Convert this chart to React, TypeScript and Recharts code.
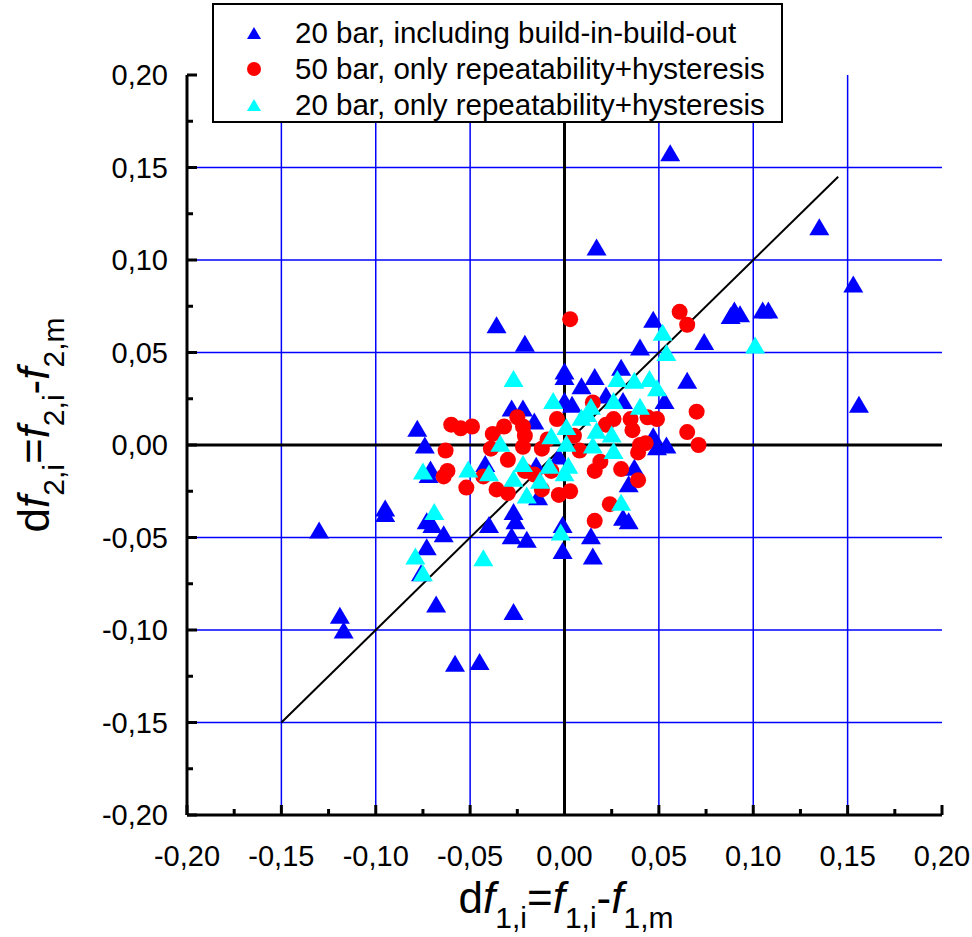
import { Legend, ReferenceLine, Scatter, ScatterChart, XAxis, YAxis } from "recharts";

// [df1, df2] pairs
const build20: [number, number][] = [
  [-0.13, -0.046], [-0.119, -0.092], [-0.117, -0.1], [-0.095, -0.034], [-0.095, -0.037],
  [-0.078, 0.009], [-0.074, 0.0], [-0.071, -0.013], [-0.072, -0.016], [-0.073, -0.041],
  [-0.07, -0.043], [-0.064, -0.048], [-0.073, -0.055], [-0.076, -0.069], [-0.068, -0.086],
  [-0.058, -0.118], [-0.045, -0.117], [-0.042, -0.01], [-0.04, -0.043], [-0.036, 0.065],
  [-0.021, 0.055], [-0.028, 0.02], [-0.022, 0.02], [-0.016, 0.013], [-0.015, -0.011],
  [-0.014, -0.028], [-0.027, -0.036], [-0.026, -0.041], [-0.028, -0.049], [-0.02, -0.051],
  [-0.027, -0.09], [0.0, 0.04], [0.0, 0.037], [0.009, 0.032], [0.016, 0.037],
  [0.0, 0.024], [0.004, 0.022], [-0.001, -0.043], [-0.001, -0.057], [0.015, -0.06],
  [0.014, -0.049], [0.017, 0.107], [0.056, 0.158], [0.047, 0.068], [0.04, 0.053],
  [0.03, 0.042], [0.022, 0.027], [0.031, 0.024], [0.053, 0.024], [0.065, 0.035],
  [0.074, 0.056], [0.088, 0.07], [0.09, 0.073], [0.093, 0.071], [0.105, 0.073],
  [0.108, 0.073], [0.135, 0.118], [0.153, 0.087], [0.156, 0.022], [0.047, 0.005],
  [0.049, -0.001], [0.054, 0.0], [0.037, -0.012], [0.034, -0.021], [0.031, -0.039],
  [0.034, -0.041], [-0.003, -0.006],
];

const rep50: [number, number][] = [
  [0.003, 0.068], [0.061, 0.072], [0.065, 0.065], [-0.06, 0.011], [-0.055, 0.009],
  [-0.049, 0.01], [-0.025, 0.015], [-0.032, 0.01], [-0.022, 0.01], [-0.021, 0.005],
  [-0.038, 0.006], [-0.039, -0.002], [-0.063, -0.003], [0.015, 0.023], [-0.004, 0.014],
  [-0.009, 0.003], [0.07, 0.018], [0.065, 0.007], [0.071, 0.0], [0.026, 0.014],
  [0.035, 0.014], [0.036, 0.008], [0.049, 0.014], [0.044, 0.015], [0.022, 0.011],
  [0.04, 0.0], [0.043, 0.001], [0.008, -0.003], [0.005, 0.005], [-0.062, -0.014],
  [-0.064, -0.017], [-0.052, -0.023], [-0.043, -0.017], [-0.03, -0.008], [-0.036, -0.024],
  [-0.03, -0.026], [-0.021, -0.014], [-0.016, -0.016], [-0.012, -0.024], [-0.003, -0.027],
  [0.003, -0.025], [-0.007, -0.014], [-0.012, -0.002], [-0.022, -0.001], [0.016, -0.014],
  [0.016, -0.041], [0.019, -0.009], [0.03, -0.013], [0.039, -0.019], [0.024, -0.032],
  [0.039, -0.004],
];

const rep20: [number, number][] = [
  [-0.027, 0.036], [-0.006, 0.024], [-0.007, 0.005], [0.001, 0.01], [0.014, 0.021],
  [0.009, 0.015], [0.017, 0.008], [-0.034, 0.001], [0.052, 0.061], [0.054, 0.05],
  [0.101, 0.054], [0.028, 0.036], [0.037, 0.035], [0.045, 0.036], [0.049, 0.031],
  [0.04, 0.021], [0.026, 0.024], [0.012, 0.017], [0.025, 0.006], [0.015, 0.0],
  [0.026, -0.003], [-0.075, -0.014], [-0.051, -0.013], [-0.04, -0.015], [-0.022, -0.01],
  [-0.027, -0.018], [-0.02, -0.027], [-0.013, -0.019], [0.0, -0.015], [0.002, -0.011],
  [0.03, -0.031], [-0.069, -0.036], [-0.079, -0.06], [-0.075, -0.069], [-0.043, -0.061],
  [-0.002, -0.047], [-0.008, -0.011], [0.001, 0.001],
];

const axisTicks = [
  -0.2, -0.175, -0.15, -0.125, -0.1, -0.075, -0.05, -0.025, 0,
  0.025, 0.05, 0.075, 0.1, 0.125, 0.15, 0.175, 0.2,
];
const gridValues = [-0.15, -0.1, -0.05, 0.05, 0.1, 0.15];
const fitLine = [-0.15, 0.145];

const FONT = '"Liberation Sans", Arial, sans-serif';

const toPoints = (arr: [number, number][]) => arr.map(([x, y]) => ({ x, y }));

const triangle = (color: string, w: number, h: number) => (p: any) => {
  const { cx, cy } = p;
  if (cx == null || cy == null) return <g />;
  return (
    <polygon
      points={`${cx},${cy - h / 2} ${cx + w / 2},${cy + h / 2} ${cx - w / 2},${cy + h / 2}`}
      fill={color}
    />
  );
};

const dot = (color: string, r: number) => (p: any) => {
  const { cx, cy } = p;
  if (cx == null || cy == null) return <g />;
  return <circle cx={cx} cy={cy} r={r} fill={color} />;
};

const series = [
  { name: "20 bar, including build-in-build-out", data: build20, color: "#0000ff", kind: "tri" },
  { name: "50 bar, only repeatability+hysteresis", data: rep50, color: "#ff0000", kind: "dot" },
  { name: "20 bar, only repeatability+hysteresis", data: rep20, color: "#00ffff", kind: "tri" },
];

const isMajor = (v: number) => Math.abs(Math.round(v * 1000)) % 50 === 0;
const fmt = (v: number) => v.toFixed(2).replace(".", ",").replace("-0,00", "0,00");

function XTick({ x, y, payload }: any) {
  const v = payload.value;
  const major = isMajor(v);
  return (
    <g>
      <line x1={x} x2={x} y1={y} y2={y - (major ? 10 : 6)} stroke="#000" strokeWidth={3} />
      {major && (
        <text x={x} y={y + 51} textAnchor="middle" fontSize={29} fontFamily={FONT} fill="#000">
          {fmt(v)}
        </text>
      )}
    </g>
  );
}

function YTick({ x, y, payload }: any) {
  const v = payload.value;
  const major = isMajor(v);
  return (
    <g>
      <line x1={x} x2={x + (major ? 10 : 6)} y1={y} y2={y} stroke="#000" strokeWidth={3} />
      {major && (
        <text x={x - 19} y={y + 10} textAnchor="end" fontSize={29} fontFamily={FONT} fill="#000">
          {fmt(v)}
        </text>
      )}
    </g>
  );
}

function LegendBox() {
  return (
    <div
      style={{
        border: "2px solid #000",
        background: "#fff",
        width: 567,
        height: 116,
        boxSizing: "content-box",
        fontFamily: FONT,
        fontSize: 29.5,
        position: "relative",
      }}
    >
      {series.map((s, i) => (
        <div
          key={s.name}
          style={{ position: "absolute", left: 0, top: 10 + i * 36, height: 36, display: "flex", alignItems: "center" }}
        >
          <svg width={80} height={36}>
            {s.kind === "tri" ? (
              <polygon points="40,12 47,24 33,24" fill={s.color} />
            ) : (
              <circle cx={40} cy={18} r={7} fill={s.color} />
            )}
          </svg>
          <span style={{ marginLeft: 1, whiteSpace: "nowrap", lineHeight: "36px" }}>{s.name}</span>
        </div>
      ))}
    </div>
  );
}

const titleStyle: React.CSSProperties = {
  position: "absolute",
  fontFamily: FONT,
  fontSize: 44,
  whiteSpace: "nowrap",
  color: "#000",
  lineHeight: 1,
};
const subStyle: React.CSSProperties = { fontSize: 30, verticalAlign: -15 };

function Title({ n }: { n: number }) {
  return (
    <>
      d<i>f</i>
      <span style={subStyle}>{`${n},i`}</span>=<i>f</i>
      <span style={subStyle}>{`${n},i`}</span>-<i>f</i>
      <span style={subStyle}>{`${n},m`}</span>
    </>
  );
}

export default function App() {
  return (
    <div style={{ position: "absolute", left: 0, top: 0, width: 972, height: 937, background: "#fff" }}>
      <ScatterChart width={972} height={937} margin={{ top: 75, right: 30, bottom: 0, left: 0 }}>
        <XAxis
          type="number"
          dataKey="x"
          domain={[-0.2, 0.2]}
          ticks={axisTicks}
          interval={0}
          height={122}
          tickSize={0}
          tickMargin={0}
          tickLine={false}
          tick={<XTick />}
          axisLine={{ stroke: "#000", strokeWidth: 3 }}
          allowDataOverflow
        />
        <YAxis
          type="number"
          dataKey="y"
          domain={[-0.2, 0.2]}
          ticks={axisTicks}
          interval={0}
          width={187}
          tickSize={0}
          tickMargin={0}
          tickLine={false}
          tick={<YTick />}
          axisLine={{ stroke: "#000", strokeWidth: 3 }}
          allowDataOverflow
        />
        {gridValues.map((v) => (
          <ReferenceLine key={`gx${v}`} x={v} stroke="#0000ff" strokeWidth={1.5} />
        ))}
        {gridValues.map((v) => (
          <ReferenceLine key={`gy${v}`} y={v} stroke="#0000ff" strokeWidth={1.5} />
        ))}
        <ReferenceLine x={0} stroke="#000" strokeWidth={3} />
        <ReferenceLine y={0} stroke="#000" strokeWidth={3} />
        {series.map((s) => (
          <Scatter
            key={s.name}
            name={s.name}
            data={toPoints(s.data)}
            fill={s.color}
            shape={s.kind === "tri" ? triangle(s.color, 20, 17) : dot(s.color, 8)}
            isAnimationActive={false}
          />
        ))}
        <ReferenceLine
          segment={[
            { x: fitLine[0], y: fitLine[0] },
            { x: fitLine[1], y: fitLine[1] },
          ]}
          stroke="#000"
          strokeWidth={2}
        />
        <Legend
          layout="vertical"
          align="center"
          verticalAlign="middle"
          content={() => <LegendBox />}
          wrapperStyle={{ top: 3, left: 212, width: 571, height: 120 }}
        />
      </ScatterChart>
      <div style={{ ...titleStyle, left: 566, top: 876, transform: "translateX(-50%)" }}>
        <Title n={1} />
      </div>
      <div
        style={{
          ...titleStyle,
          left: 40,
          top: 425,
          transform: "translate(-50%, -50%) rotate(-90deg)",
        }}
      >
        <Title n={2} />
      </div>
    </div>
  );
}
